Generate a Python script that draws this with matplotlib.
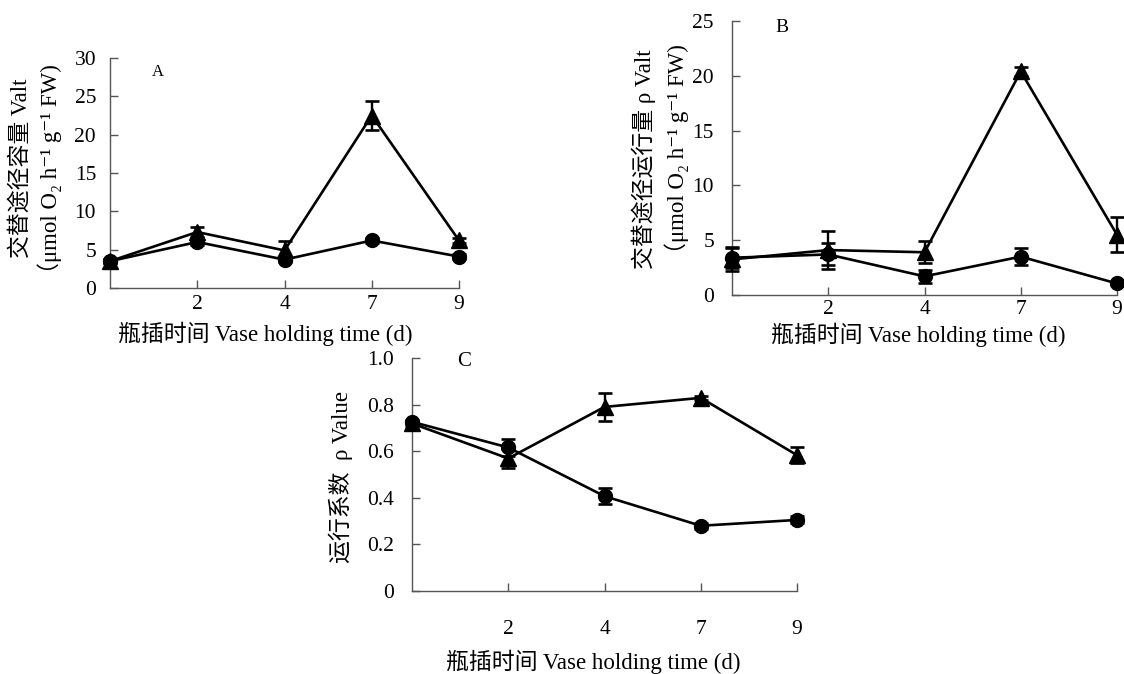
import matplotlib
matplotlib.use("Agg")
import matplotlib.pyplot as plt

plt.rcParams['font.family'] = ['Liberation Serif', 'Noto Sans CJK SC', 'DejaVu Sans']

# ---- data ----
days = ["", "2", "4", "7", "9"]

A_tri = [3.5, 7.3, 4.9, 22.5, 6.2]
A_tri_err = [0.3, 0.7, 1.2, 1.9, 0.3]
A_cir = [3.5, 6.0, 3.7, 6.2, 4.1]
A_cir_err = [0.3, 0.4, 0.3, 0.3, 0.3]

B_tri = [3.25, 4.1, 3.9, 20.4, 5.5]
B_tri_err = [1.1, 1.7, 1.0, 0.4, 1.6]
B_cir = [3.4, 3.7, 1.7, 3.5, 1.05]
B_cir_err = [0.9, 1.0, 0.6, 0.8, 0.15]

C_tri = [0.719, 0.569, 0.79, 0.829, 0.583]
C_tri_err = [0.01, 0.04, 0.06, 0.01, 0.035]
C_cir = [0.726, 0.616, 0.407, 0.28, 0.305]
C_cir_err = [0.01, 0.035, 0.035, 0.012, 0.015]

W, H = 1124, 674
fig = plt.figure(figsize=(W / 100, H / 100), dpi=100)

LABEL_FS = 16.5
TICK_FS = 15.5


def ax_at(l, r, t, b):
    return fig.add_axes([l / W, 1 - b / H, (r - l) / W, (b - t) / H])


def style(ax, ylim, yticks, yticklabels, xpad, ypad):
    x = list(range(len(days)))
    ax.set_xlim(0, len(days) - 1)
    ax.set_ylim(*ylim)
    ax.set_xticks(x[1:])
    ax.set_xticklabels(days[1:])
    ax.set_yticks(yticks)
    ax.set_yticklabels(yticklabels)
    for s in ['top', 'right']:
        ax.spines[s].set_visible(False)
    for s in ['left', 'bottom']:
        ax.spines[s].set_color('#555555')
        ax.spines[s].set_linewidth(1.0)
    ax.tick_params(axis='both', direction='in', length=6, width=1.0,
                   color='#555555', labelsize=TICK_FS)
    ax.tick_params(axis='x', pad=xpad)
    ax.tick_params(axis='y', pad=ypad)


def plot_series(ax, vals, errs, marker, ms):
    x = list(range(len(vals)))
    ax.errorbar(x, vals, yerr=errs, color='black', marker=marker, ms=ms,
                lw=1.9, elinewidth=1.7, capsize=5, capthick=1.9,
                clip_on=False, zorder=3)


# Panel A
axA = ax_at(110, 459, 58, 288)
plot_series(axA, A_tri, A_tri_err, '^', 11)
plot_series(axA, A_cir, A_cir_err, 'o', 10)
style(axA, (0, 30), [0, 5, 10, 15, 20, 25, 30],
      ["0", "5", "10", "15", "20", "25", "30"], 5, 10)
fig.text(158 / W, 1 - 72 / H, "A", fontsize=12, ha='center', va='center')
fig.text(21 / W, 1 - 168 / H, "交替途径容量 Valt", rotation=90,
         fontsize=LABEL_FS, ha='center', va='center')
fig.text(50 / W, 1 - 175 / H, "（μmol O₂ h⁻¹ g⁻¹ FW)", rotation=90,
         fontsize=LABEL_FS, ha='center', va='center')
fig.text(265 / W, 1 - 334 / H, "瓶插时间 Vase holding time (d)",
         fontsize=LABEL_FS, ha='center', va='center')

# Panel B
axB = ax_at(732, 1117, 21, 295)
plot_series(axB, B_tri, B_tri_err, '^', 11)
plot_series(axB, B_cir, B_cir_err, 'o', 10)
style(axB, (0, 25), [0, 5, 10, 15, 20, 25],
      ["0", "5", "10", "15", "20", "25"], 3.5, 13)
fig.text(782 / W, 1 - 28 / H, "B", fontsize=14, ha='center', va='center')
fig.text(644 / W, 1 - 159 / H, "交替途径运行量 ρ Valt", rotation=90,
         fontsize=LABEL_FS, ha='center', va='center')
fig.text(677 / W, 1 - 155 / H, "（μmol O₂ h⁻¹ g⁻¹ FW)", rotation=90,
         fontsize=LABEL_FS, ha='center', va='center')
fig.text(918 / W, 1 - 335 / H, "瓶插时间 Vase holding time (d)",
         fontsize=LABEL_FS, ha='center', va='center')

# Panel C
axC = ax_at(412, 797, 358, 591)
plot_series(axC, C_tri, C_tri_err, '^', 11)
plot_series(axC, C_cir, C_cir_err, 'o', 10)
style(axC, (0, 1.0), [0, 0.2, 0.4, 0.6, 0.8, 1.0],
      ["0", "0.2", "0.4", "0.6", "0.8", "1.0"], 21, 13)
fig.text(464 / W, 1 - 362 / H, "C", fontsize=15, ha='center', va='center')
fig.text(341 / W, 1 - 477 / H, "运行系数  ρ Value", rotation=90,
         fontsize=LABEL_FS, ha='center', va='center')
fig.text(593 / W, 1 - 662 / H, "瓶插时间 Vase holding time (d)",
         fontsize=LABEL_FS, ha='center', va='center')

fig.savefig("out.png", dpi=100)
